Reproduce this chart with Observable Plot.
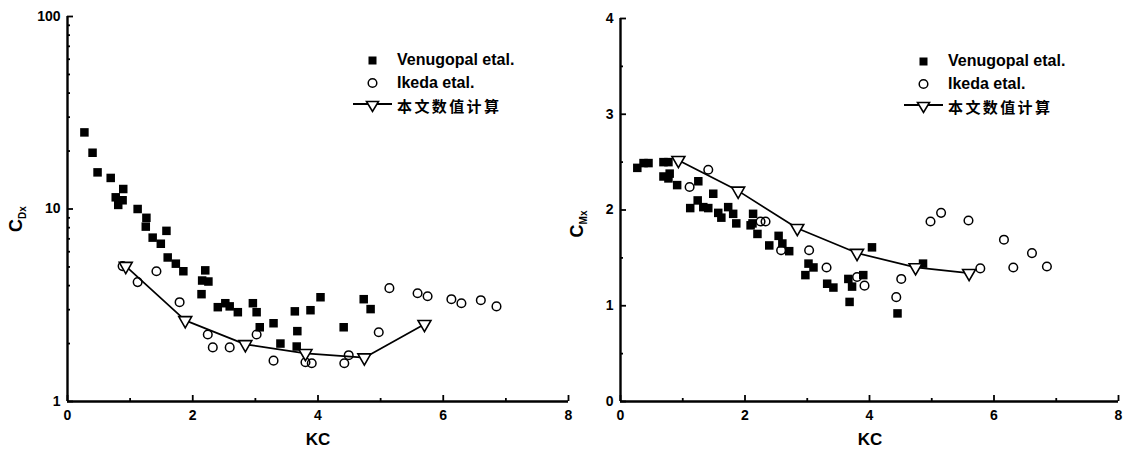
<!DOCTYPE html>
<html>
<head>
<meta charset="utf-8">
<script src="https://cdn.jsdelivr.net/npm/d3@7"></script>
<script src="https://cdn.jsdelivr.net/npm/@observablehq/plot@0.6"></script>
<style>
  html, body { margin: 0; padding: 0; background: #fff; }
  #wrap { position: relative; width: 1126px; height: 455px; overflow: hidden; font-family: "Liberation Sans", Arial, sans-serif; color: #000; }
  #charts { display: flex; }
  .ylab { position: absolute; font-weight: bold; font-size: 18px; transform: translate(-50%, -50%) rotate(-90deg); white-space: nowrap; }
  .ylab sub { font-size: 10px; }
  .xlab { position: absolute; font-weight: bold; font-size: 17px; transform: translate(-50%, -50%); }
  .legend { position: absolute; font-weight: bold; font-size: 16px; }
  .legend .row { display: flex; align-items: center; height: 23px; }
  .legend svg { display: block; margin-right: 3px; }
  .legend .cjk { font-family: "Noto Sans CJK SC", sans-serif; font-size: 15px; letter-spacing: 2.4px; }
</style>
</head>
<body>
<div id="wrap">
  <div id="charts"></div>
</div>
<script>
// ---------- Data ----------
// Left panel: C_Dx (log scale) vs KC
const dragVenugopalKC = [0.27,0.40,0.48,0.69,0.77,0.89,0.81,0.88,1.12,1.26,1.25,1.58,1.36,1.49,1.60,1.73,1.85,2.20,2.15,2.25,2.14,2.40,2.52,2.59,2.72,2.96,3.02,3.07,3.29,3.40,3.63,3.67,3.66,3.88,4.04,4.41,4.73,4.84];
const dragVenugopalC  = [25,19.6,15.5,14.5,11.5,12.7,10.5,11.1,10.0,9.0,8.1,7.7,7.1,6.6,5.6,5.2,4.75,4.8,4.25,4.2,3.61,3.09,3.24,3.12,2.91,3.24,2.91,2.43,2.55,2.0,2.94,2.32,1.93,2.98,3.48,2.43,3.40,3.02];
const dragIkedaKC = [0.88,1.12,1.42,1.79,2.24,2.32,2.59,3.02,3.29,3.80,3.90,4.42,4.49,4.97,5.14,5.59,5.75,6.13,6.29,6.60,6.85];
const dragIkedaC  = [5.05,4.17,4.75,3.28,2.23,1.91,1.91,2.23,1.63,1.60,1.58,1.58,1.74,2.29,3.88,3.65,3.52,3.40,3.24,3.36,3.12];
const dragModelKC = [0.93,1.88,2.84,3.80,4.74,5.70];
const dragModelC  = [5.05,2.64,1.98,1.78,1.69,2.52];

// Right panel: C_Mx (linear) vs KC
const inertiaVenugopalKC = [0.27,0.37,0.45,0.69,0.77,0.69,0.79,0.77,0.91,1.25,1.49,1.12,1.24,1.33,1.41,1.57,1.73,1.81,1.62,1.86,2.13,2.12,2.20,2.09,2.54,2.39,2.60,2.71,2.97,3.02,3.10,3.32,3.42,3.66,3.72,3.90,3.68,4.04,4.45,4.86];
const inertiaVenugopalC  = [2.44,2.49,2.49,2.50,2.50,2.35,2.38,2.33,2.26,2.30,2.17,2.02,2.10,2.03,2.02,1.97,2.03,1.96,1.92,1.86,1.96,1.86,1.75,1.84,1.73,1.63,1.65,1.57,1.32,1.44,1.40,1.23,1.19,1.28,1.20,1.32,1.04,1.61,0.92,1.44];
const inertiaIkedaKC = [1.11,1.41,2.25,2.33,2.58,3.03,3.31,3.80,3.92,4.43,4.51,4.98,5.15,5.59,5.78,6.16,6.31,6.61,6.85];
const inertiaIkedaC  = [2.24,2.42,1.88,1.88,1.58,1.58,1.40,1.30,1.21,1.09,1.28,1.88,1.97,1.89,1.39,1.69,1.40,1.55,1.41];
const inertiaModelKC = [0.93,1.89,2.84,3.80,4.74,5.60];
const inertiaModelC  = [2.52,2.20,1.81,1.55,1.40,1.34];

// Axis ticks
const xMajorTicks = [0,2,4,6,8];
const xMinorTicks = [1,3,5,7];
const dragMajorTicks = [1,10,100];
const dragMinorTicks = [2,3,4,5,6,7,8,9,20,30,40,50,60,70,80,90];
const inertiaMajorTicks = [0,1,2,3,4];
const inertiaMinorTicks = [0.5,1.5,2.5,3.5];

// Labels
const seriesNames = ["Venugopal etal.", "Ikeda etal.", "本文数值计算"];
const xTitle = "KC";

// ---------- Helpers ----------
const zip = (xs, ys) => xs.map((x, i) => ({x, y: ys[i]}));
const font = {fontFamily: "'Liberation Sans', Arial, sans-serif", fontSize: "14px", fontWeight: "bold", color: "#000", background: "#fff", overflow: "visible"};

function panel({width, marginLeft, marginRight, marginTop, y, yMajor, yMinor, yTickFormat, venu, ikeda, model}) {
  const [y0, y1] = y.domain;
  return Plot.plot({
    width, height: 455, marginLeft, marginRight, marginTop, marginBottom: 54,
    style: font,
    x: {domain: [xMajorTicks[0], xMajorTicks[xMajorTicks.length - 1]]},
    y,
    marks: [
      Plot.axisX({ticks: xMajorTicks, tickSize: -6, tickPadding: 15, tickFormat: d3.format("d"), label: null, strokeWidth: 1.8}),
      Plot.axisX({ticks: xMinorTicks, tickSize: -3, tickFormat: () => "", label: null, strokeWidth: 1.8}),
      Plot.axisY({ticks: yMajor, tickSize: -6, tickPadding: 13, tickFormat: yTickFormat, label: null, strokeWidth: 1.8}),
      Plot.axisY({ticks: yMinor, tickSize: -3, tickFormat: () => "", label: null, strokeWidth: 1.8}),
      Plot.ruleX([xMajorTicks[0]], {y1: y0, y2: y1, stroke: "#000", strokeWidth: 2.4}),
      Plot.ruleY([y0], {x1: xMajorTicks[0], x2: xMajorTicks[xMajorTicks.length - 1], stroke: "#000", strokeWidth: 2.4}),
      Plot.dot(venu, {x: "x", y: "y", symbol: "square", r: 4.8, fill: "#000", stroke: "none"}),
      Plot.dot(ikeda, {x: "x", y: "y", symbol: "circle", r: 4.3, fill: "none", stroke: "#000", strokeWidth: 1.5}),
      Plot.line(model, {x: "x", y: "y", stroke: "#000", strokeWidth: 1.7}),
      Plot.dot(model, {x: "x", y: "y", symbol: "triangle", rotate: 180, r: 4.8, fill: "#fff", stroke: "#000", strokeWidth: 1.6})
    ]
  });
}

const left = panel({
  width: 575, marginLeft: 67, marginRight: 7, marginTop: 16,
  y: {type: "log", domain: [1, 100]},
  yMajor: dragMajorTicks, yMinor: dragMinorTicks, yTickFormat: d3.format("d"),
  venu: zip(dragVenugopalKC, dragVenugopalC),
  ikeda: zip(dragIkedaKC, dragIkedaC),
  model: zip(dragModelKC, dragModelC)
});
const right = panel({
  width: 551, marginLeft: 45, marginRight: 8, marginTop: 18,
  y: {type: "linear", domain: [0, 4]},
  yMajor: inertiaMajorTicks, yMinor: inertiaMinorTicks, yTickFormat: d3.format("d"),
  venu: zip(inertiaVenugopalKC, inertiaVenugopalC),
  ikeda: zip(inertiaIkedaKC, inertiaIkedaC),
  model: zip(inertiaModelKC, inertiaModelC)
});
const charts = document.getElementById("charts");
charts.append(left, right);

// ---------- Axis titles & legends (HTML overlays) ----------
const wrap = document.getElementById("wrap");
function addDiv(cls, html, css) {
  const d = document.createElement("div");
  d.className = cls; d.innerHTML = html;
  Object.assign(d.style, css);
  wrap.append(d);
  return d;
}
addDiv("ylab", "C<sub>Dx</sub>", {left: "17px", top: "219px"});
addDiv("ylab", "C<sub>Mx</sub>", {left: "578px", top: "224px"});
addDiv("xlab", xTitle, {left: "318px", top: "440px"});
addDiv("xlab", xTitle, {left: "870px", top: "440px"});

const icons = [
  `<svg width="42" height="16"><rect x="16.5" y="4.5" width="8" height="8" fill="#000"/></svg>`,
  `<svg width="42" height="16"><circle cx="20.5" cy="8" r="4.3" fill="none" stroke="#000" stroke-width="1.5"/></svg>`,
  `<svg width="42" height="16"><line x1="1" y1="6" x2="40" y2="6" stroke="#000" stroke-width="2"/><path d="M14.5,3.5 L26.5,3.5 L20.5,13.5 Z" fill="#fff" stroke="#000" stroke-width="1.6"/></svg>`
];
function legend(leftPx, topPx) {
  const rows = seriesNames.map((name, i) =>
    `<div class="row">${icons[i]}<span class="${i === 2 ? "cjk" : ""}">${name}</span></div>`).join("");
  addDiv("legend", rows, {left: leftPx + "px", top: topPx + "px"});
}
legend(352, 48);
legend(903, 49);
</script>
</body>
</html>
